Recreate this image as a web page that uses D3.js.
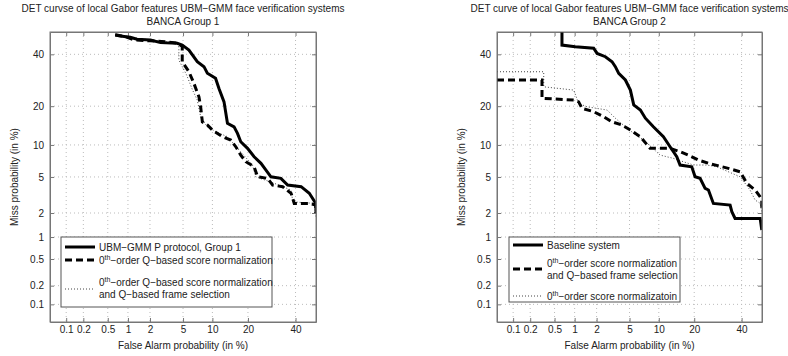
<!DOCTYPE html>
<html>
<head>
<meta charset="utf-8">
<script src="https://cdn.jsdelivr.net/npm/d3@7"></script>
<style>
  body { margin: 0; background: #fff; }
  svg { font-family: "Liberation Sans", Arial, sans-serif; }
  text { fill: #222; font-size: 10px; }
</style>
</head>
<body>
<svg id="chart" width="788" height="356"></svg>
<script>
// ticks, in percent
var tickValues = [0.1, 0.2, 0.5, 1, 2, 5, 10, 20, 40];
var tickLabels = ["0.1", "0.2", "0.5", "1", "2", "5", "10", "20", "40"];

// curves: [false alarm %, miss %]
var g1Baseline = [[0.65,48.6],[0.77,48.2],[1.08,47.6],[1.34,46.7],[2.03,46.4],[2.72,45.2],[4.3,44.9],[4.9,44.1],
  [5.8,41.9],[7.1,36.8],[8.29,34.7],[8.95,32.0],[10.7,30.0],[11.5,26.1],[12.76,21.4],[13.67,15.0],[15.54,14.1],
  [16.57,12.5],[17.6,10.65],[19.85,9.34],[22.2,7.85],[24.8,6.81],[26.8,5.86],[28.86,5.02],[33.2,4.84],[36.3,4.12],
  [42.7,3.96],[46.7,3.36],[49.9,2.59],[50,2.0]];
var g1QNorm = [[0.65,48.8],[0.9,48.0],[1.2,46.5],[2.0,46.0],[3.2,45.6],[4.3,45.0],[4.9,43.5],[4.9,36.8],[5.8,32.6],
  [6.55,28.0],[7.38,23.1],[7.68,19.8],[7.99,15.4],[8.95,14.56],[10.0,13.3],[12.35,11.74],[14.6,11.0],[16.05,9.65],
  [17.6,8.13],[19.27,7.05],[22.2,6.31],[23.5,5.02],[27.5,4.84],[29.6,4.12],[34.0,3.96],[37.9,3.36],[39.4,2.59],
  [46.7,2.59],[49.9,2.48],[50,2.0]];
var g1QNormFrame = [[0.65,48.6],[1.1,47.5],[2.0,46.4],[4.3,45.0],[4.49,43.0],[4.49,37.5],[5.47,31.3],[6.34,25.5],
  [7.1,22.0],[7.68,16.8],[8.95,14.1],[10.97,12.8],[13.67,11.74],[17.07,9.02],[21.6,6.56],[22.8,5.02],[30.3,4.3],
  [37.9,3.65],[38.7,2.7],[49.2,2.59],[50,1.8]];

var g2Baseline = [[0.65,50],[0.65,44.1],[1.02,43.4],[1.83,42.7],[2.03,40.4],[2.59,38.96],[3.13,36.8],[3.43,34.7],
  [3.76,31.96],[4.49,29.3],[5.11,25.5],[5.56,20.4],[6.55,18.8],[7.38,16.4],[8.87,14.1],[11.04,11.74],[12.68,9.65],
  [14.5,7.85],[15.45,6.56],[19.16,6.31],[20.3,5.02],[22.1,4.84],[24.0,3.8],[25.3,3.65],[27.3,2.59],[34.6,2.48],
  [35.4,2.07],[36.9,1.72],[49.1,1.72],[49.9,1.23]];
var g2QNormFrame = [[0.05,29.3],[0.315,29.3],[0.315,22.6],[0.97,22.0],[1.14,21.4],[1.27,19.3],[1.83,18.3],[2.47,16.8],
  [3.13,15.4],[4.11,14.56],[5.11,13.3],[6.55,11.74],[8.23,9.34],[12.68,9.34],[15.45,8.71],[18.0,8.13],[21.5,7.31],
  [25.3,6.81],[33.8,6.09],[39.3,5.64],[42.5,4.3],[46.6,3.65],[49.1,3.08],[49.9,2.83],[49.9,2.17]];
var g2Norm = [[0.05,32.6],[0.336,32.6],[0.336,26.7],[0.97,25.5],[1.14,20.9],[1.49,19.8],[2.72,18.8],[3.43,16.4],
  [4.49,14.1],[5.56,12.5],[7.1,11.0],[10.28,8.13],[13.56,7.58],[16.45,7.05],[19.7,6.56],[24.65,6.56],[28.7,6.31],
  [39.3,5.02],[44.1,3.65],[46.6,2.83],[49.1,2.59],[49.9,2.05]];

var titles = [
  ["DET curvse of local Gabor features UBM\u2212GMM face verification systems", "BANCA Group 1"],
  ["DET curve of local Gabor features UBM\u2212GMM face verification systems", "BANCA Group 2"]
];

// inverse normal cdf (Acklam)
function probit(p) {
  var a = [-3.969683028665376e+01, 2.209460984245205e+02, -2.759285104469687e+02, 1.383577518672690e+02, -3.066479806614716e+01, 2.506628277459239e+00];
  var b = [-5.447609879822406e+01, 1.615858368580409e+02, -1.556989798598866e+02, 6.680131188771972e+01, -1.328068155288572e+01];
  var c = [-7.784894002430293e-03, -3.223964580411365e-01, -2.400758277161838e+00, -2.549732539343734e+00, 4.374664141464968e+00, 2.938163982698783e+00];
  var d = [7.784695709041462e-03, 3.224671290700398e-01, 2.445134137142996e+00, 3.754408661907416e+00];
  var q, r;
  if (p < 0.02425) {
    q = Math.sqrt(-2 * Math.log(p));
    return (((((c[0]*q+c[1])*q+c[2])*q+c[3])*q+c[4])*q+c[5]) / ((((d[0]*q+d[1])*q+d[2])*q+d[3])*q+1);
  }
  if (p <= 1 - 0.02425) {
    q = p - 0.5; r = q * q;
    return (((((a[0]*r+a[1])*r+a[2])*r+a[3])*r+a[4])*r+a[5])*q / (((((b[0]*r+b[1])*r+b[2])*r+b[3])*r+b[4])*r+1);
  }
  q = Math.sqrt(-2 * Math.log(1 - p));
  return -(((((c[0]*q+c[1])*q+c[2])*q+c[3])*q+c[4])*q+c[5]) / ((((d[0]*q+d[1])*q+d[2])*q+d[3])*q+1);
}

var svg = d3.select("#chart");
var yTop = 32, yBottom = 322;
var pMin = probit(0.0005), pMax = probit(0.5);
var tickP = tickValues.map(function (v) { return probit(v / 100); });

var styles = {
  solid: { width: 3, dash: null, color: "#000" },
  dashed: { width: 3, dash: "7,4", color: "#000" },
  dotted: { width: 1, dash: "1,2", color: "#444" }
};

function panel(idx, x0, x1, series, legend) {
  var g = svg.append("g");
  var x = d3.scaleLinear().domain([pMin, pMax]).range([x0, x1]);
  var y = d3.scaleLinear().domain([pMin, pMax]).range([yBottom, yTop]);

  // grid
  g.selectAll("line.gx").data(tickP).enter().append("line")
    .attr("x1", function (d) { return x(d); }).attr("x2", function (d) { return x(d); })
    .attr("y1", yTop).attr("y2", yBottom)
    .attr("stroke", "#bbb").attr("stroke-dasharray", "1,3");
  g.selectAll("line.gy").data(tickP).enter().append("line")
    .attr("y1", function (d) { return y(d); }).attr("y2", function (d) { return y(d); })
    .attr("x1", x0).attr("x2", x1)
    .attr("stroke", "#bbb").attr("stroke-dasharray", "1,3");

  // axes with inward ticks
  var fmt = function (d, i) { return tickLabels[i]; };
  var ax = g.append("g").attr("transform", "translate(0," + yBottom + ")")
    .call(d3.axisBottom(x).tickValues(tickP).tickFormat(fmt).tickSizeInner(-4).tickSizeOuter(0).tickPadding(4));
  var axT = g.append("g").attr("transform", "translate(0," + yTop + ")")
    .call(d3.axisTop(x).tickValues(tickP).tickFormat("").tickSizeInner(-4).tickSizeOuter(0));
  var ay = g.append("g").attr("transform", "translate(" + x0 + ",0)")
    .call(d3.axisLeft(y).tickValues(tickP).tickFormat(fmt).tickSizeInner(-4).tickSizeOuter(0).tickPadding(6));
  var ayR = g.append("g").attr("transform", "translate(" + x1 + ",0)")
    .call(d3.axisRight(y).tickValues(tickP).tickFormat("").tickSizeInner(-4).tickSizeOuter(0));
  [ax, axT, ay, ayR].forEach(function (a) {
    a.select(".domain").attr("stroke", "#777");
    a.selectAll(".tick line").attr("stroke", "#777");
    a.selectAll("text").attr("fill", "#222").style("font-size", "10px");
    a.attr("font-family", null).attr("font-size", null);
  });

  // curves
  g.append("clipPath").attr("id", "clip" + idx).append("rect")
    .attr("x", x0).attr("y", yTop).attr("width", x1 - x0).attr("height", yBottom - yTop);
  var line = d3.line()
    .x(function (d) { return x(probit(d[0] / 100)); })
    .y(function (d) { return y(probit(d[1] / 100)); });
  series.slice().reverse().forEach(function (s) {
    var st = styles[s.style];
    g.append("path").datum(s.data)
      .attr("clip-path", "url(#clip" + idx + ")")
      .attr("d", line).attr("fill", "none")
      .attr("stroke", st.color).attr("stroke-width", st.width)
      .attr("stroke-dasharray", st.dash);
  });

  // box
  g.append("rect").attr("x", x0).attr("y", yTop).attr("width", x1 - x0).attr("height", yBottom - yTop)
    .attr("fill", "none").attr("stroke", "#777");

  // titles and labels
  var cx = (x0 + x1) / 2;
  g.append("text").attr("x", cx).attr("y", 12).attr("text-anchor", "middle").text(titles[idx][0]);
  g.append("text").attr("x", cx).attr("y", 25).attr("text-anchor", "middle").text(titles[idx][1]);
  g.append("text").attr("x", cx).attr("y", 349).attr("text-anchor", "middle").text("False Alarm probability (in %)");
  g.append("text").attr("transform", "translate(" + (x0 - 32) + "," + ((yTop + yBottom) / 2) + ") rotate(-90)")
    .attr("text-anchor", "middle").text("Miss probability (in %)");

  // legend
  var lg = g.append("g");
  lg.append("rect").attr("x", legend.x).attr("y", legend.y).attr("width", legend.w).attr("height", legend.h)
    .attr("fill", "#fff").attr("stroke", "#555");
  legend.items.forEach(function (it) {
    var st = styles[it.style];
    lg.append("line").attr("x1", legend.x + 4).attr("x2", legend.x + 34)
      .attr("y1", legend.y + it.ly).attr("y2", legend.y + it.ly)
      .attr("stroke", st.color).attr("stroke-width", st.width).attr("stroke-dasharray", st.dash);
    it.lines.forEach(function (ln, k) {
      var t = lg.append("text").attr("x", legend.x + 38).attr("y", legend.y + it.ty + k * 12.5);
      if (ln.indexOf("0th") === 0) {
        t.append("tspan").text("0");
        t.append("tspan").attr("dy", -4).style("font-size", "7px").text("th");
        t.append("tspan").attr("dy", 4).text(ln.slice(3));
      } else {
        t.text(ln);
      }
    });
  });
}

panel(0, 50, 316, [
  { data: g1Baseline, style: "solid" },
  { data: g1QNorm, style: "dashed" },
  { data: g1QNormFrame, style: "dotted" }
], {
  x: 61, y: 237, w: 211, h: 70,
  items: [
    { style: "solid", ly: 10, ty: 13.5, lines: ["UBM\u2212GMM P protocol, Group 1"] },
    { style: "dashed", ly: 23, ty: 26.5, lines: ["0th\u2212order Q\u2212based score normalization"] },
    { style: "dotted", ly: 52, ty: 48.5, lines: ["0th\u2212order Q\u2212based score normalization", "and Q\u2212based frame selection"] }
  ]
});

panel(1, 497, 762, [
  { data: g2Baseline, style: "solid" },
  { data: g2QNormFrame, style: "dashed" },
  { data: g2Norm, style: "dotted" }
], {
  x: 509, y: 237, w: 171, h: 65,
  items: [
    { style: "solid", ly: 8, ty: 11.5, lines: ["Baseline system"] },
    { style: "dashed", ly: 32, ty: 29.5, lines: ["0th\u2212order score normalization", "and Q\u2212based frame selection"] },
    { style: "dotted", ly: 59, ty: 62.5, lines: ["0th\u2212order score normalizatoin"] }
  ]
});
</script>
</body>
</html>
